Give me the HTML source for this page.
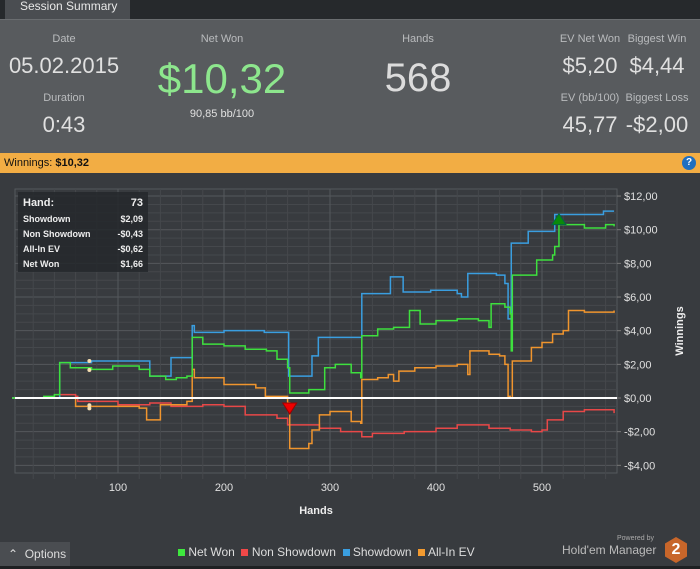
<!DOCTYPE html>
<html><head><meta charset="utf-8">
<style>
*{margin:0;padding:0;box-sizing:border-box}
body{width:700px;height:569px;overflow:hidden;background:#383b3f;font-family:"Liberation Sans",sans-serif;position:relative}
.a{position:absolute;white-space:nowrap}
.c{transform:translateX(-50%);text-align:center}
.lbl{color:#b9bbbd;font-size:11px}
.val{color:#e0e0e0;font-size:22px}
</style></head><body>
<div class="a" style="left:0;top:0;width:700px;height:19px;background:#26292c"></div>
<div class="a" style="left:5px;top:0;width:125px;height:19px;background:#4a4d51;color:#e8e8e8;font-size:12px;padding:0 0 0 15px;line-height:12px">Session Summary</div>
<div class="a" style="left:0;top:19px;width:700px;height:134px;background:#585b5e;border-top:1px solid #6a6d70"></div>
<div class="a c lbl" style="left:64px;top:33px">Date</div>
<div class="a c val" style="left:64px;top:53px">05.02.2015</div>
<div class="a c lbl" style="left:64px;top:92px">Duration</div>
<div class="a c val" style="left:64px;top:112px">0:43</div>
<div class="a c lbl" style="left:222px;top:33px">Net Won</div>
<div class="a c" style="left:222px;top:55px;color:#8de68d;font-size:42px">$10,32</div>
<div class="a c" style="left:222px;top:108px;color:#e0e0e0;font-size:11px">90,85 bb/100</div>
<div class="a c lbl" style="left:418px;top:33px">Hands</div>
<div class="a c" style="left:418px;top:56px;color:#dcdcdc;font-size:40px">568</div>
<div class="a c lbl" style="left:590px;top:33px">EV Net Won</div>
<div class="a c val" style="left:590px;top:53px">$5,20</div>
<div class="a c lbl" style="left:657px;top:33px">Biggest Win</div>
<div class="a c val" style="left:657px;top:53px">$4,44</div>
<div class="a c lbl" style="left:590px;top:92px">EV (bb/100)</div>
<div class="a c val" style="left:590px;top:112px">45,77</div>
<div class="a c lbl" style="left:657px;top:92px">Biggest Loss</div>
<div class="a c val" style="left:657px;top:112px">-$2,00</div>
<div class="a" style="left:0;top:153px;width:700px;height:20px;background:#f2ad44;font-size:11px;line-height:20px;padding-left:4px;color:#111">Winnings: <b>$10,32</b></div>
<div class="a" style="left:682px;top:156px;width:14px;height:14px;border-radius:7px;background:#1f6fc0;color:#fff;font-size:10px;font-weight:bold;text-align:center;line-height:14px">?</div>
<svg class="a" style="left:0;top:0" width="700" height="569" id="chart"></svg>
<div class="a" style="left:0;top:542px;width:70px;height:24px;background:#4a4d51;color:#ddd;font-size:12px;line-height:24px;padding-left:8px">&#8963;&nbsp; Options</div>
<div class="a" style="left:178px;top:545px;font-size:12px;color:#ddd">
<span><span style="display:inline-block;width:7px;height:7px;background:#3ee83e"></span> Net Won</span>&nbsp;
<span><span style="display:inline-block;width:7px;height:7px;background:#f04848"></span> Non Showdown</span>&nbsp;
<span><span style="display:inline-block;width:7px;height:7px;background:#3a9ee0"></span> Showdown</span>&nbsp;
<span><span style="display:inline-block;width:7px;height:7px;background:#f29a30"></span> All-In EV</span></div>
<div class="a" style="left:617px;top:535px;font-size:7px;color:#aaa">Powered by</div>
<div class="a" style="left:562px;top:543px;font-size:12px;color:#bbb">Hold'em Manager</div>
<div class="a" style="left:665px;top:537px;width:22px;height:26px;background:#c8662a;clip-path:polygon(50% 0,100% 25%,100% 75%,50% 100%,0 75%,0 25%);color:#fff;font-weight:bold;font-size:16px;text-align:center;line-height:26px">2</div>
<div class="a" style="left:0;top:566px;width:700px;height:3px;background:#1e2022"></div>
<script>
const hands=[0,20,30,40,45,55,60,62,75,95,100,120,127,130,140,145,150,155,165,170,172,180,200,220,230,238,240,250,260,262,280,283,289,290,295,300,305,310,320,329,330,340,345,350,355,357,360,365,369,370,375,380,385,395,400,420,424,430,432,440,450,452,457,460,465,468,470,471,472,478,483,485,487,490,492,495,500,505,510,512,516,520,525,540,545,558,560,568];
const netWonPts=[[0,0],[30,0.1],[40,0.2],[45,2.1],[55,1.8],[75,1.7],[95,1.9],[120,1.7],[130,1.3],[145,1.1],[155,1.2],[165,1.3],[170,3.6],[180,3.2],[200,3.1],[220,2.9],[240,2.8],[250,2.3],[260,1.8],[262,0.3],[280,0.5],[290,0.5],[295,1.8],[305,2.0],[320,1.5],[329,1.2],[330,3.7],[345,4.1],[360,4.2],[375,5.2],[385,4.4],[400,4.6],[420,4.7],[440,4.6],[450,4.2],[452,5.6],[465,5.4],[470,5.0],[471,2.8],[472,7.3],[492,7.3],[495,8.2],[510,8.5],[512,9.0],[516,10.3],[540,10.1],[560,10.3],[568,10.2]];
const showdownPts=[[0,0],[45,2.1],[75,2.2],[120,2.2],[130,1.3],[150,2.4],[170,4.3],[172,3.9],[200,4.0],[238,3.9],[261,1.3],[283,2.5],[289,3.6],[329,3.6],[330,6.2],[350,6.2],[357,7.2],[369,6.3],[395,6.4],[420,6.2],[424,6.0],[430,7.4],[457,7.3],[465,6.8],[468,4.7],[471,9.2],[483,9.2],[487,9.9],[510,9.9],[512,10.9],[558,11.1],[568,11.1]];
const nonShowdownPts=[[0,0],[45,0.2],[60,0.1],[62,-0.2],[100,-0.4],[130,-0.3],[150,-0.5],[180,-0.4],[200,-0.5],[220,-1.0],[250,-1.2],[260,-1.6],[290,-1.8],[310,-2.0],[330,-2.3],[340,-2.1],[370,-2.0],[400,-1.8],[420,-1.6],[450,-1.8],[470,-1.9],[490,-2.0],[500,-1.9],[505,-1.3],[520,-0.8],[540,-0.7],[568,-0.9]];
const allInPts=[[0,0],[55,0],[60,-0.5],[100,-0.5],[120,-0.6],[127,-1.3],[140,-0.4],[165,-0.2],[170,1.7],[172,1.2],[200,0.8],[230,0.6],[239,0.1],[260,-0.3],[262,-3.0],[280,-2.7],[283,-1.9],[290,-1.0],[300,-0.8],[320,-1.4],[329,-1.5],[330,1.1],[345,1.2],[355,1.4],[360,1.0],[365,1.6],[380,1.8],[400,1.9],[420,2.0],[430,1.4],[432,2.8],[450,2.6],[460,2.5],[465,2.0],[468,0.1],[470,0.0],[472,2.2],[485,2.2],[490,3.0],[500,3.3],[510,3.8],[520,4.0],[525,5.2],[540,5.1],[568,5.2]];
const yTicks=[12,10,8,6,4,2,0,-2,-4];
const yTickLabels=["$12,00","$10,00","$8,00","$6,00","$4,00","$2,00","$0,00","-$2,00","-$4,00"];
const xTicks=[100,200,300,400,500];
const tipRows=[["Hand:","73"],["Showdown","$2,09"],["Non Showdown","-$0,43"],["All-In EV","-$0,62"],["Net Won","$1,66"]];

const X=h=>12+h*1.06, Y=v=>398-v*16.83;
const L=15,R=617,T=189,B=473;
const svg=document.getElementById('chart');const NS='http://www.w3.org/2000/svg';
function mk(t,a,p){const e=document.createElementNS(NS,t);for(const k in a)e.setAttribute(k,a[k]);(p||svg).appendChild(e);return e;}
const frame=mk('rect',{x:L,y:T,width:R-L,height:B-T,fill:'#383b3f',stroke:'#55585c'});


for(let v=-4.5;v<=12.5;v+=0.5){const y=Y(v);if(y<T||y>B)continue;const maj=Math.abs(v%2)<1e-9;
 const l=mk('line',{x1:L,x2:R,y1:y,y2:y,stroke:maj?'#55585c':'#45484c','stroke-width':1});
 
 }
for(let h=0;h<=580;h+=20){const x=X(h);if(x<=L||x>=R)continue;const maj=h%100===0;
 const l=mk('line',{x1:x,x2:x,y1:T,y2:B+(maj?0:6),stroke:maj?'#55585c':'#45484c'});
 
 }
yTicks.forEach((v,i)=>{const t=mk('text',{x:624,y:Y(v)+4,fill:'#e0e0e0','font-size':11});t.textContent=yTickLabels[i];
 
 
 const tk=mk('line',{x1:R,x2:R+4,y1:Y(v),y2:Y(v),stroke:'#777'});});
xTicks.forEach(h=>{const t=mk('text',{x:X(h),y:491,fill:'#e0e0e0','font-size':11,'text-anchor':'middle'});t.textContent=h;
 
 });
const xt=mk('text',{x:316,y:514,fill:'#eee','font-size':11,'font-weight':'bold','text-anchor':'middle'});xt.textContent='Hands';


const yt=mk('text',{x:0,y:0,fill:'#eee','font-size':11,'font-weight':'bold','text-anchor':'middle',transform:'translate(683,331) rotate(-90)'});yt.textContent='Winnings';


function step(pts){let d='M'+X(pts[0][0])+','+Y(pts[0][1]);for(let i=1;i<pts.length;i++){d+='L'+X(pts[i][0])+','+Y(pts[i-1][1])+'L'+X(pts[i][0])+','+Y(pts[i][1]);}return d;}
[[nonShowdownPts,'#e84848','non-showdown-line'],[allInPts,'#f0952e','all-in-ev-line'],[showdownPts,'#3a9ee0','showdown-line'],[netWonPts,'#3ee03e','net-won-line']].forEach(([p,c,n])=>{
 const e=mk('path',{d:step(p),fill:'none',stroke:c,'stroke-width':1.5});
 
 });
const zl=mk('line',{x1:L,x2:R,y1:Y(0),y2:Y(0),stroke:'#fff','stroke-width':2});


const dn=mk('polygon',{points:`${X(262)-7},${Y(-0.3)} ${X(262)+7},${Y(-0.3)} ${X(262)},${Y(-0.3)+11}`,fill:'#e00',stroke:'#900'});


const up=mk('polygon',{points:`${X(516)-7},${Y(10.3)} ${X(516)+7},${Y(10.3)} ${X(516)},${Y(10.3)-11}`,fill:'#0a8a0a',stroke:'#064'});


[2.2,1.66,-0.43,-0.62].forEach(v=>{const d=mk('circle',{cx:X(73),cy:Y(v),r:2,fill:'#f5deb0'});
 
 });
const tip=mk('g',{});


mk('rect',{x:18,y:192,width:130,height:80,fill:'#25282b','fill-opacity':0.85},tip);
tipRows.forEach((r,i)=>{const y=i===0?206:222+i*15-15;
 const a=mk('text',{x:23,y:y,fill:'#eee','font-size':i===0?11:9,'font-weight':'bold'},tip);a.textContent=r[0];
 const b=mk('text',{x:143,y:y,fill:'#eee','font-size':i===0?11:9,'font-weight':'bold','text-anchor':'end'},tip);b.textContent=r[1];});
</script>
</body></html>
